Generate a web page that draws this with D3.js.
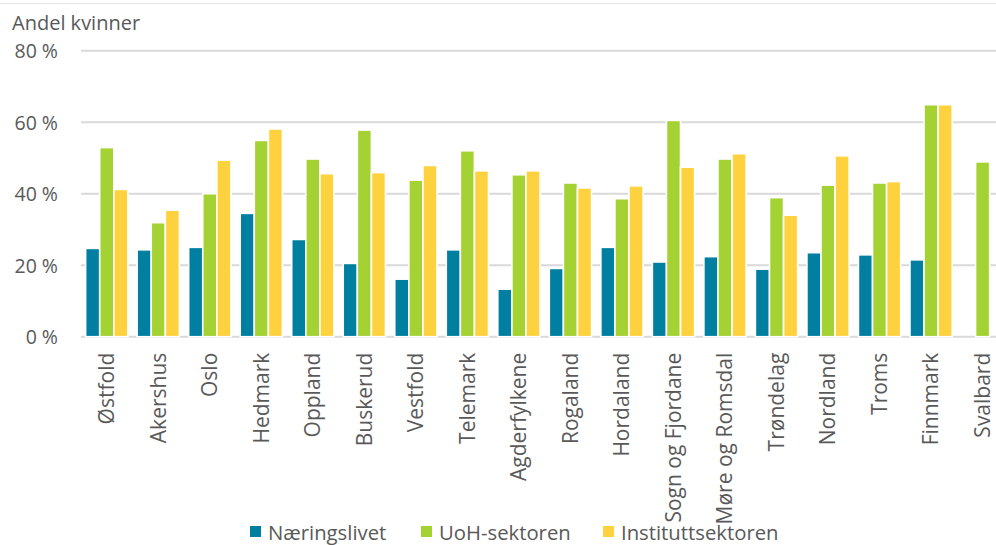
<!DOCTYPE html>
<html>
<head>
<meta charset="utf-8">
<script src="https://cdn.jsdelivr.net/npm/d3@7"></script>
<style>
  html, body { margin: 0; padding: 0; background: #fff; }
  svg { display: block; font-family: "Open Sans", sans-serif; }
</style>
</head>
<body>
<svg id="chart" width="996" height="545"></svg>
<script>
const categories = ["Østfold","Akershus","Oslo","Hedmark","Oppland","Buskerud","Vestfold","Telemark","Agderfylkene","Rogaland","Hordaland","Sogn og Fjordane","Møre og Romsdal","Trøndelag","Nordland","Troms","Finnmark","Svalbard"];
const seriesNames = ["Næringslivet","UoH-sektoren","Instituttsektoren"];
const naeringslivet = [24.7,24.3,25.0,34.5,27.2,20.5,16.1,24.3,13.3,19.1,25.0,20.9,22.4,18.9,23.5,22.9,21.5,null];
const uoh = [52.9,31.9,40.0,54.9,49.7,57.8,43.8,52.0,45.3,43.0,38.6,60.5,49.7,38.9,42.4,43.0,64.9,48.9];
const institutt = [41.2,35.4,49.4,58.1,45.6,45.9,47.9,46.4,46.4,41.6,42.2,47.4,51.2,34.0,50.6,43.4,64.9,null];
const yTicks = [0,20,40,60,80];
const colors = ["#007fa1","#a5d233","#fed23f"];

const seriesValues = [naeringslivet, uoh, institutt];
const svg = d3.select("#chart");

const left = 81, step = 51.52;
const x = d3.scaleBand().domain(categories).range([left, left + step * categories.length]).paddingInner(0.18).paddingOuter(0.09);
const xs = d3.scaleBand().domain(seriesNames).range([0, x.bandwidth()]);
const y = d3.scaleLinear().domain([0, 80]).range([336.7, 50.7]);

// top border line
svg.append("line").attr("x1", 0).attr("x2", 996).attr("y1", 3.5).attr("y2", 3.5)
  .attr("stroke", "#e6e6e6").attr("stroke-width", 1);

// title
svg.append("text").attr("x", 12).attr("y", 30).attr("font-size", 20).attr("fill", "#595959").text("Andel kvinner");

// gridlines
svg.append("g").selectAll("line").data(yTicks).join("line")
  .attr("x1", left).attr("x2", 1010)
  .attr("y1", d => y(d)).attr("y2", d => y(d))
  .attr("stroke", "#d9d9d9").attr("stroke-width", 2);

// y axis labels
const yAxis = d3.axisLeft(y).tickValues(yTicks).tickFormat(d => d + " %").tickSize(0).tickPadding(0);
const yg = svg.append("g").attr("transform", "translate(58,0)").call(yAxis);
yg.select(".domain").remove();
yg.selectAll("text").attr("font-size", 19.5).attr("fill", "#595959").attr("font-family", "Open Sans, sans-serif").attr("dy", "0.35em");

// bars
const groups = svg.append("g").selectAll("g").data(categories).join("g")
  .attr("transform", d => `translate(${x(d)},0)`);
groups.selectAll("rect").data((c, i) => seriesNames.map((s, j) => ({s, j, v: seriesValues[j][i]})).filter(d => d.v != null))
  .join("rect")
  .attr("x", d => xs(d.s))
  .attr("width", xs.bandwidth())
  .attr("y", d => y(d.v))
  .attr("height", d => y(0) - y(d.v))
  .attr("fill", d => colors[d.j])
  .attr("stroke", "#fff").attr("stroke-width", 1.6);

// x axis labels
const xAxis = d3.axisBottom(x).tickSize(0).tickPadding(0);
const xg = svg.append("g").attr("transform", `translate(0,${y(0) + 16})`).call(xAxis);
xg.select(".domain").remove();
xg.selectAll("text")
  .attr("font-size", 21).attr("fill", "#595959").attr("font-family", "Open Sans, sans-serif")
  .attr("transform", "rotate(-90)")
  .attr("text-anchor", "end")
  .attr("x", 0).attr("y", 0).attr("dy", "0.35em");

// legend
const legendX = [250, 421, 603];
const lg = svg.append("g").selectAll("g").data(seriesNames).join("g")
  .attr("transform", (d, i) => `translate(${legendX[i]},526)`);
lg.append("rect").attr("width", 11).attr("height", 11).attr("fill", (d, i) => colors[i]);
lg.append("text").attr("x", 18).attr("y", 13.5).attr("font-size", 20.3).attr("fill", "#595959").text(d => d);
</script>
</body>
</html>
